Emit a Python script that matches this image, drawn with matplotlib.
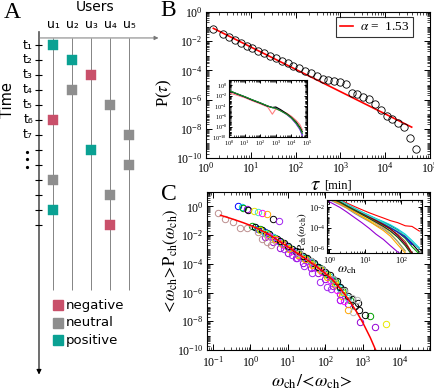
import numpy as np
import matplotlib
matplotlib.use("Agg")
import matplotlib.pyplot as plt
from matplotlib.ticker import LogLocator, NullFormatter

plt.rcParams["font.family"] = "serif"
plt.rcParams["font.serif"] = ["Liberation Serif", "DejaVu Serif"]
plt.rcParams["mathtext.fontset"] = "stix"
plt.rcParams["axes.linewidth"] = 0.8

W, H = 435, 391

# ---------------- panel A: toy timeline ----------------
event_time = [1, 2, 3, 4, 5, 6, 7, 8, 9, 10, 11, 12, 13]
event_user = [1, 2, 3, 2, 4, 1, 5, 3, 5, 1, 4, 1, 4]
event_kind = ["positive", "positive", "negative", "neutral", "neutral", "negative", "neutral",
              "positive", "neutral", "neutral", "neutral", "positive", "negative"]
users = [1, 2, 3, 4, 5]
user_labels = ["u\u2081", "u\u2082", "u\u2083", "u\u2084", "u\u2085"]
time_labels = ["t\u2081", "t\u2082", "t\u2083", "t\u2084", "t\u2085", "t\u2086", "t\u2087"]
kind_order = ["negative", "neutral", "positive"]
kind_colors = {"negative": "#c9506a", "neutral": "#8e8e8e", "positive": "#0aa193"}

# ---------------- panel B: inter-event times ----------------
tau_bins = [1.46, 2.44, 3.3, 4.4, 5.9, 8.1, 10.8, 14.7, 20, 26.8, 36.5, 49, 66, 89, 121, 162,
            219, 295, 400, 537, 728, 980, 1315, 1780, 2400, 3250, 4350, 5900, 8100, 10800,
            14400, 19600, 26300, 35700, 48000]
P_tau = [6.9e-2, 2.95e-2, 1.85e-2, 1.2e-2, 7.9e-3, 4.9e-3, 3.4e-3, 2.2e-3, 1.5e-3, 1.0e-3,
         6.7e-4, 4.4e-4, 3.0e-4, 2.1e-4, 1.4e-4, 9.6e-5, 6.3e-5, 4.1e-5, 2.7e-5, 2.2e-5,
         1.9e-5, 1.6e-5, 1.2e-5, 3.0e-6, 2.3e-6, 1.6e-6, 1.05e-6, 5.0e-7, 1.9e-7, 8e-8,
         4.7e-8, 2.4e-8, 1.4e-8, 2.2e-9, 4.2e-10]
fit_tau = [1.46, 3.9e4]
fit_P = [7.6e-2, 1.3e-8]

inset_tau = [1, 3, 10, 30, 100, 300, 600, 1000, 2000, 5000, 1e4, 2e4, 3.5e4, 5e4]
inset_tau_curves = {
    "#ff7f7f": [0.032, 0.0126, 4e-3, 1e-3, 2.5e-4, 6.3e-5, 2.5e-6, 2.5e-5, 1.26e-5, 4e-6, 1e-6, 1.6e-7, 2.5e-8, 2.5e-9],
    "#3050ff": [0.089, 0.024, 6e-3, 1.5e-3, 3.8e-4, 9.5e-5, 4.8e-5, 4.5e-5, 1.4e-5, 2.5e-6, 4.5e-7, 4e-8, 3.2e-9, 2.5e-10],
    "#8a2be2": [0.085, 0.023, 5.8e-3, 1.45e-3, 3.6e-4, 9e-5, 4.6e-5, 4e-5, 1.3e-5, 2.2e-6, 4e-7, 3.5e-8, 3e-9, 2e-10],
    "#000000": [0.079, 0.022, 5.6e-3, 1.4e-3, 3.5e-4, 8.9e-5, 5e-5, 6.3e-5, 2e-5, 3.2e-6, 6.3e-7, 7.9e-8, 7.9e-9, 1e-9],
    "#1a9a1a": [0.1, 0.025, 6.3e-3, 1.6e-3, 4e-4, 1e-4, 4.5e-5, 3.2e-5, 1.1e-5, 2.5e-6, 5e-7, 5e-8, 5e-9, 5e-10],
}

# ---------------- panel C: channel activity collapse ----------------
collapse_x = [0.158, 0.251, 0.398, 0.631, 1.0, 1.585, 2.51, 3.98, 6.31, 10, 15.8, 25.1, 39.8,
              63.1, 100, 158, 251, 398, 631, 1000, 1585, 2239]
collapse_y = [0.24, 0.166, 0.112, 0.074, 0.047, 0.0275, 0.0148, 7.2e-3, 3.3e-3, 1.48e-3, 6.6e-4,
              2.95e-4, 1.29e-4, 5.4e-5, 2.1e-5, 7.2e-6, 1.9e-6, 3.8e-7, 6.3e-8, 7.9e-9, 7.1e-10, 8.9e-11]

channel_colors = ["#0000ff", "#00d0e0", "#00a000", "#9400d3", "#000000", "#e8e800", "#40e0d0",
                  "#ff00ff", "#ffa500", "#000000", "#a020f0", "#bc8f8f", "#b8b8b8"]
channel_x = [
    [0.47, 1.6, 2.5, 4, 6.3, 10, 16, 25, 40, 63, 100, 160, 250],
    [0.58, 1.3, 2, 3.2, 5, 8, 13, 20, 32, 50, 80, 130, 200, 320],
    [0.65, 1.1, 1.8, 2.8, 4.5, 7, 11, 18, 28, 45, 70, 110, 180, 280, 450, 1550],
    [0.79, 2.5, 4, 6.3, 10, 16, 25, 40, 63, 100, 160, 250, 400, 830, 2100],
    [0.87, 1.3, 2, 3.2, 5, 8, 13, 20, 32, 50, 80, 130, 200, 320, 500, 800, 1120],
    [1.26, 1.8, 2.8, 4.5, 7, 11, 18, 28, 45, 70, 110, 180, 280, 4100],
    [1.62, 2.5, 4, 6.3, 10, 16, 25, 40, 63, 100, 160, 250, 400],
    [2.04, 3.2, 5, 8, 13, 20, 32, 50, 80, 130, 200, 250, 320],
    [2.7, 4.5, 7, 11, 18, 28, 45, 70, 110, 180, 280, 400],
    [4.1, 6.3, 10, 16, 25, 40, 63, 100, 160, 250, 400, 630, 740],
    [5.8, 8, 13, 17, 27, 45, 71, 110, 145, 250],
    [0.133, 0.21, 0.35, 0.52, 0.79, 1.62, 2.0, 2.7, 3.6],
    [20, 40, 80, 160, 320, 500, 680, 550],
]
channel_y = [
    [1.12, 0.026, 0.016, 7.6e-3, 3.5e-3, 1.6e-3, 7.0e-4, 3.2e-4, 1.4e-4, 6.0e-5, 2.4e-5, 8.0e-6, 2.2e-6],
    [0.95, 0.037, 0.021, 0.011, 5.2e-3, 2.4e-3, 1.0e-3, 4.8e-4, 2.1e-4, 9.5e-5, 3.8e-5, 1.3e-5, 4.2e-6, 9.5e-7],
    [0.72, 0.044, 0.025, 0.013, 6.3e-3, 2.9e-3, 1.35e-3, 5.8e-4, 2.7e-4, 1.15e-4, 5.0e-5, 2.0e-5, 6.0e-6, 1.6e-6, 3.2e-7, 2.3e-8],
    [0.65, 7e-3, 3.2e-3, 1.3e-3, 6e-4, 2.6e-4, 1.15e-4, 5.5e-5, 2.3e-5, 9e-6, 3e-6, 8e-7, 1.5e-7, 9.3e-9, 4e-9],
    [0.55, 0.038, 0.023, 0.012, 5.6e-3, 2.6e-3, 1.1e-3, 5.4e-4, 2.4e-4, 1.1e-4, 4.6e-5, 1.8e-5, 6e-6, 1.6e-6, 3.5e-7, 6.5e-8, 2.7e-8],
    [0.47, 0.022, 0.012, 5.6e-3, 2.6e-3, 1.2e-3, 5.0e-4, 2.3e-4, 9.5e-5, 4.2e-5, 1.6e-5, 4.6e-6, 1.1e-6, 6.6e-9],
    [0.43, 0.015, 7.5e-3, 3.4e-3, 1.55e-3, 6.8e-4, 3.1e-4, 1.35e-4, 5.8e-5, 2.3e-5, 7.8e-6, 2.1e-6, 4.5e-7],
    [0.32, 9e-3, 4.3e-3, 1.9e-3, 8e-4, 3.6e-4, 1.5e-4, 6.5e-5, 2.5e-5, 8e-6, 1.6e-6, 3e-7, 2.5e-7],
    [0.28, 5.2e-3, 2.3e-3, 1.05e-3, 4.4e-4, 2.0e-4, 8.5e-5, 3.6e-5, 1.3e-5, 3.6e-6, 6e-7, 6.3e-8],
    [0.126, 3.6e-3, 1.65e-3, 7.4e-4, 3.4e-4, 1.5e-4, 6.5e-5, 2.6e-5, 9e-6, 2.6e-6, 6e-7, 1.2e-7, 2e-7],
    [0.095, 1.1e-3, 4.3e-4, 2.5e-4, 6.8e-5, 2.3e-5, 5.6e-6, 2.6e-6, 1.7e-6, 3.2e-7],
    [0.32, 0.13, 0.085, 0.03, 0.033, 0.017, 5.4e-3, 3.5e-3, 2.0e-3],
    [5.5e-4, 1.7e-4, 4.6e-5, 9.5e-6, 1.3e-6, 4.2e-7, 3e-7, 4.7e-8],
]

omega = [1, 2, 3, 5, 8, 13, 20, 32, 50, 80, 130, 200, 320]
omega_colors = ["#ff0000", "#000000", "#00a000", "#0000ff", "#e8e800", "#a0522d", "#909090",
                "#9400d3", "#00d0e0", "#ff00ff", "#ffa500", "#3030a0", "#800000", "#40e0d0", "#006400"]
omega_P = [
    [0.126, 0.05, 0.025, 0.0112, 5.6e-3, 2.8e-3, 1.6e-3, 8.9e-4, 5e-4, 3.2e-4, 1.6e-4, 1.4e-4, 5e-5],
    [0.1, 0.035, 0.018, 7.1e-3, 3.2e-3, 1.4e-3, 7.1e-4, 3.5e-4, 1.6e-4, 6.3e-5, 1.6e-5, 3.2e-6, 5e-7],
    [0.1, 0.032, 0.016, 6.3e-3, 2.8e-3, 1.26e-3, 6.3e-4, 2.8e-4, 1.1e-4, 4e-5, 1e-5, 1.6e-6, 3.2e-7],
    [0.079, 0.028, 0.014, 5.6e-3, 2.5e-3, 1.1e-3, 5e-4, 2.2e-4, 1e-4, 4e-5, 1.26e-5, 2.5e-6],
    [0.063, 0.02, 0.01, 3.5e-3, 1.4e-3, 5.6e-4, 2.5e-4, 1e-4, 3.2e-5, 5e-6, 6.3e-7],
    [0.079, 0.025, 0.0112, 4.5e-3, 2e-3, 8.9e-4, 4e-4, 1.8e-4, 7.9e-5, 2.5e-5, 5e-6, 4e-7],
    [0.05, 0.016, 7.9e-3, 2.5e-3, 1e-3, 4e-4, 1.8e-4, 7.9e-5, 2.5e-5, 5e-6, 6.3e-7],
    [0.032, 8.9e-3, 3.5e-3, 1e-3, 3.2e-4, 8.9e-5, 2.5e-5, 7.9e-6, 2e-6, 5e-7, 1.6e-7],
    [0.1, 0.04, 0.02, 7.9e-3, 3.5e-3, 1.6e-3, 7.9e-4, 4e-4, 2e-4, 7.9e-5, 2.5e-5, 6.3e-6, 1.26e-6],
    [0.079, 0.025, 0.0126, 5e-3, 2e-3, 7.9e-4, 3.2e-4, 1.26e-4, 5e-5, 1.6e-5, 2.5e-6, 3.2e-7],
    [0.063, 0.02, 8.9e-3, 3.2e-3, 1.26e-3, 4.5e-4, 1.6e-4, 5.6e-5, 1.6e-5, 2.5e-6, 4e-7],
    [0.089, 0.032, 0.016, 6.3e-3, 2.8e-3, 1.26e-3, 5.6e-4, 2.5e-4, 1.1e-4, 4.5e-5, 1.4e-5, 4e-6, 1e-6],
    [0.1, 0.035, 0.016, 6.3e-3, 2.5e-3, 1.1e-3, 5e-4, 2e-4, 7.9e-5, 2e-5, 3.2e-6, 4e-7],
    [0.1, 0.04, 0.018, 7.1e-3, 3.2e-3, 1.4e-3, 7.1e-4, 3.2e-4, 1.4e-4, 5.6e-5, 2e-5, 5e-6, 1e-6],
    [0.079, 0.028, 0.0126, 5e-3, 2e-3, 7.9e-4, 3.5e-4, 1.4e-4, 5e-5, 1.26e-5, 2e-6, 2.5e-7],
]


def px_box(left, top, right, bottom):
    # figure-fraction rectangle from pixel edges (origin top-left)
    return [left / W, 1 - bottom / H, (right - left) / W, (bottom - top) / H]


def log_style(ax, size, big=4.0, small=2.0, pad=2.5, ybase=100):
    ax.set_xscale("log")
    ax.set_yscale("log")
    ax.xaxis.set_major_locator(LogLocator(base=10, numticks=30))
    ax.xaxis.set_minor_locator(LogLocator(base=10, subs=np.arange(2, 10), numticks=100))
    ax.yaxis.set_major_locator(LogLocator(base=ybase, numticks=30))
    ax.yaxis.set_minor_locator(LogLocator(base=10, subs=np.arange(1, 10), numticks=100))
    ax.xaxis.set_minor_formatter(NullFormatter())
    ax.yaxis.set_minor_formatter(NullFormatter())
    ax.tick_params(which="both", direction="in", top=True, right=True, labelsize=size, pad=pad)
    ax.tick_params(which="major", length=big, width=0.7)
    ax.tick_params(which="minor", length=small, width=0.5)


fig = plt.figure(figsize=(W / 100, H / 100), dpi=100)

# ---------------- A ----------------
ax_a = fig.add_axes([0, 0, 200 / W, 1])
ax_a.axis("off")
ax_a.set_xlim(-34 / 19, 166 / 19)
ax_a.set_ylim((H - 30.02) / 14.98, -30.02 / 14.98)
sans = "DejaVu Sans"

ax_a.vlines(users, 0.53, 17.35, color="#707070", lw=0.6)
ax_a.annotate("", xy=(0.263, 23.0), xytext=(0.263, 0.1),
              arrowprops=dict(arrowstyle="-|>", lw=0.8, color="black", mutation_scale=7, shrinkA=0, shrinkB=0))
ax_a.annotate("", xy=(6.55, 0.53), xytext=(0.263, 0.53),
              arrowprops=dict(arrowstyle="-|>", lw=0.7, color="#777777", mutation_scale=6, shrinkA=0, shrinkB=0))
ax_a.hlines(event_time, 0.05, 0.42, color="black", lw=0.8)

for k in kind_order:
    xs = [u for u, kk in zip(event_user, event_kind) if kk == k]
    ts = [t for t, kk in zip(event_time, event_kind) if kk == k]
    ax_a.plot(xs, ts, "s", ms=7.2, color=kind_colors[k], mec=kind_colors[k], mew=0.3)

for t, lab in zip(event_time, time_labels):
    ax_a.text(-0.05, t, lab, ha="right", va="center", fontsize=9, family=sans)
ax_a.plot([-0.37] * 3, [8.14, 8.61, 9.14], "o", ms=1.3, color="black")
for u, lab in zip(users, user_labels):
    ax_a.text(u, -0.4, lab, ha="center", va="center", fontsize=9, family=sans)
ax_a.text(3.21, -1.54, "Users", ha="center", va="center", fontsize=10, family=sans)
ax_a.text(-1.37, 4.67, "Time", ha="center", va="center", fontsize=10.5, family=sans, rotation=90)

for i, k in enumerate(kind_order):
    ty = 18.36 + 1.17 * i
    ax_a.plot([1.26], [ty], "s", ms=6.5, color=kind_colors[k])
    ax_a.text(1.68, ty, k, ha="left", va="center", fontsize=9.5, family=sans)

# ---------------- B ----------------
ax_b = fig.add_axes(px_box(206, 12, 430, 158))
log_style(ax_b, 8.5)
ax_b.plot(fit_tau, fit_P, color="red", lw=1.2, label=r"$\alpha$ =  1.53")
ax_b.plot(tau_bins, P_tau, "o", ms=5.3, mfc="none", mec="black", mew=0.6)
ax_b.set_xlim(1, 1e5)
ax_b.set_ylim(1e-10, 1)
ax_b.set_ylabel(r"P($\tau$)", fontsize=12)
ax_b.yaxis.set_label_coords(-0.145, 0.45)
leg = ax_b.legend(loc="upper right", bbox_to_anchor=(0.925, 0.965), fancybox=False, edgecolor="black",
                  fontsize=9.5, handlelength=1.0, handletextpad=0.5, borderpad=0.3, borderaxespad=0)
leg.get_frame().set_linewidth(0.8)
fig.text(315 / W, 1 - 185 / H, r"$\tau$", fontsize=15, ha="center", va="center")
fig.text(338 / W, 1 - 186 / H, "[min]", fontsize=9, ha="center", va="center")

ax_bi = fig.add_axes(px_box(229, 80, 307, 137))
log_style(ax_bi, 4.5, big=2.5, small=1.2, pad=1.2)
for c, ys in inset_tau_curves.items():
    ax_bi.plot(inset_tau, ys, color=c, lw=0.8)
ax_bi.set_xlim(1, 1e5)
ax_bi.set_ylim(1e-10, 10)

# ---------------- C ----------------
ax_c = fig.add_axes(px_box(207, 192, 430, 350))
log_style(ax_c, 8.5)
ax_c.tick_params(axis="x", which="both", pad=3.5)
for c, xs, ys in zip(channel_colors, channel_x, channel_y):
    ax_c.plot(xs, ys, "o", ms=4.6, mfc="none", mec=c, mew=0.7)
ax_c.plot(collapse_x, collapse_y, color="red", lw=1.1)
ax_c.set_xlim(0.069, 6.2e4)
ax_c.set_ylim(1e-10, 10)
ax_c.set_ylabel(r"$<\!\omega_{\rm ch}\!>\!\mathrm{P}_{\rm ch}(\omega_{\rm ch})$", fontsize=12)
ax_c.yaxis.set_label_coords(-0.12, 0.56)
ax_c.set_xlabel(r"$\omega_{\rm ch}/\!<\!\omega_{\rm ch}\!>$", fontsize=13)
ax_c.xaxis.set_label_coords(0.47, -0.14)

ax_ci = fig.add_axes(px_box(327, 200, 422, 253))
log_style(ax_ci, 6, big=3, small=1.5, pad=1.2)
for c, ys in zip(omega_colors, omega_P):
    ax_ci.plot(omega[:len(ys)], ys, color=c, lw=0.8)
ax_ci.set_xlim(0.86, 380)
ax_ci.set_ylim(4e-7, 0.047)
fig.text(302 / W, 1 - 232 / H, r"$\mathrm{P}_{\rm ch}(\omega_{\rm ch})$", fontsize=8,
         rotation=90, ha="center", va="center")
fig.text(347 / W, 1 - 270 / H, r"$\omega_{\rm ch}$", fontsize=9.5, ha="center", va="center")

# panel letters
fig.text(12 / W, 1 - 12 / H, "A", fontsize=17, ha="center", va="center")
fig.text(168 / W, 1 - 10 / H, "B", fontsize=17, ha="center", va="center")
fig.text(169 / W, 1 - 195 / H, "C", fontsize=17, ha="center", va="center")

fig.savefig("out.png", dpi=100)
